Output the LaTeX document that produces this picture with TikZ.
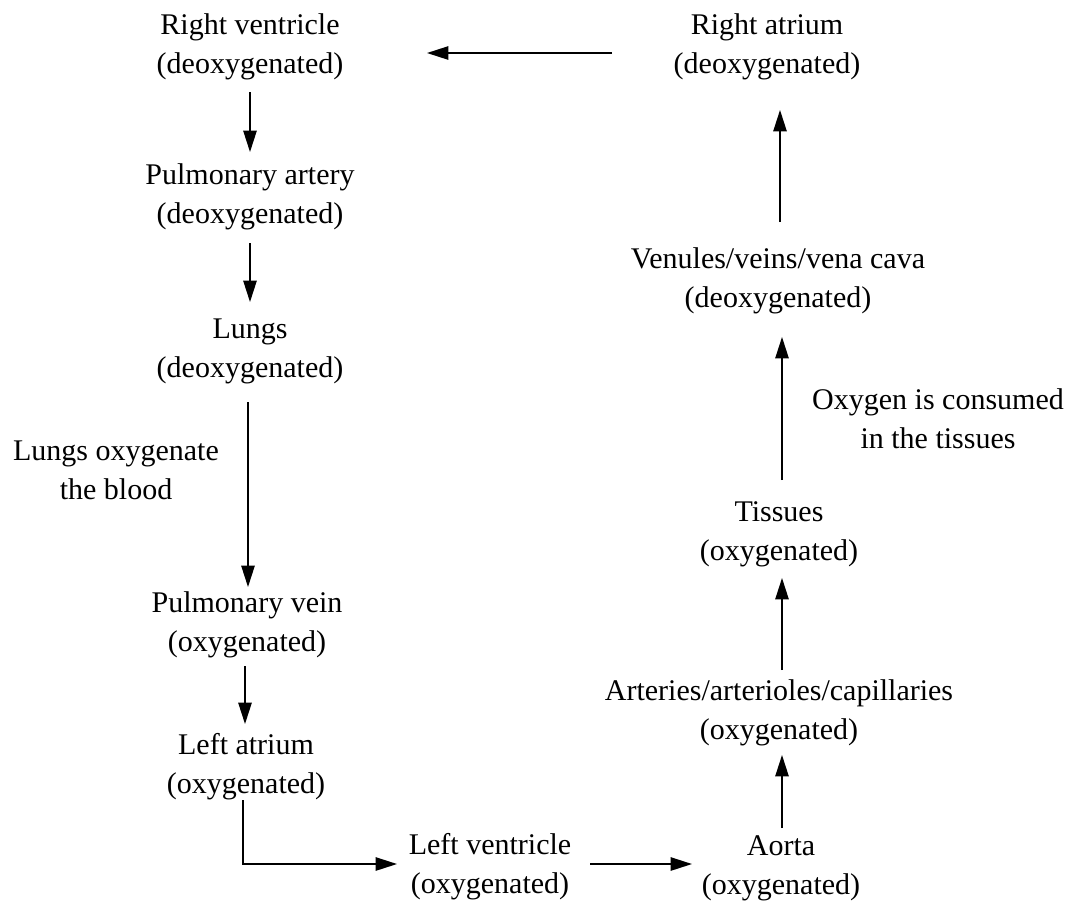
\documentclass[tikz,border=0pt]{standalone}
\usepackage{fontspec}
\setmainfont{Liberation Serif}
\usetikzlibrary{arrows.meta,calc}
\begin{document}
\begin{tikzpicture}[x=0.75pt,y=-0.75pt,
  box/.style={align=center,inner sep=0pt,font=\fontsize{22.5}{29.25}\selectfont},
  arr/.style={line width=1.2pt,-{Triangle[length=16pt,width=10pt]}}]
\useasboundingbox (0,0) rectangle (1070,904);
% left column
\node[box] (RV) at (250,47) {Right ventricle\\(deoxygenated)};
\node[box] (PA) at (250,197) {Pulmonary artery\\(deoxygenated)};
\node[box] (Lungs) at (250,351) {Lungs\\(deoxygenated)};
\node[box] (PV) at (247,625) {Pulmonary vein\\(oxygenated)};
\node[box] (LA) at (246,767) {Left atrium\\(oxygenated)};
% bottom
\node[box] (LV) at (490,867) {Left ventricle\\(oxygenated)};
\node[box] (Aorta) at (781,868) {Aorta\\(oxygenated)};
% right column
\node[box] (Arteries) at (779,713) {Arteries/arterioles/capillaries\\(oxygenated)};
\node[box] (Tissues) at (779,534) {Tissues\\(oxygenated)};
\node[box] (Venules) at (778,281) {Venules/veins/vena cava\\(deoxygenated)};
\node[box] (RA) at (767,47) {Right atrium\\(deoxygenated)};
% labels
\node[box] (labL) at (116,470) {Lungs oxygenate\\the blood};
\node[box] (labR) at (938,419) {Oxygen is consumed\\in the tissues};
% connectors
\draw[arr] ($(RA)+(-155,6)$) -- ($(RV)+(177,6)$);
\draw[arr] ($(RV)+(0,45)$) -- ($(PA)+(0,-45)$);
\draw[arr] ($(PA)+(0,46)$) -- ($(Lungs)+(0,-49)$);
\draw[arr] ($(Lungs)+(-2,51)$) -- ($(PV)+(1,-38)$);
\draw[arr] ($(PV)+(-2,41)$) -- ($(LA)+(-1,-43)$);
\draw[arr] ($(LA)+(-3,33)$) |- ($(LV)+(-93,-3)$);
\draw[arr] ($(LV)+(100,-3)$) -- ($(Aorta)+(-89,-4)$);
\draw[arr] ($(Aorta)+(1,-40)$) -- ($(Arteries)+(3,42)$);
\draw[arr] ($(Arteries)+(3,-43)$) -- ($(Tissues)+(3,44)$);
\draw[arr] ($(Tissues)+(3,-54)$) -- ($(Venules)+(4,56)$);
\draw[arr] ($(Venules)+(2,-59)$) -- ($(RA)+(13,63)$);
\end{tikzpicture}
\end{document}
